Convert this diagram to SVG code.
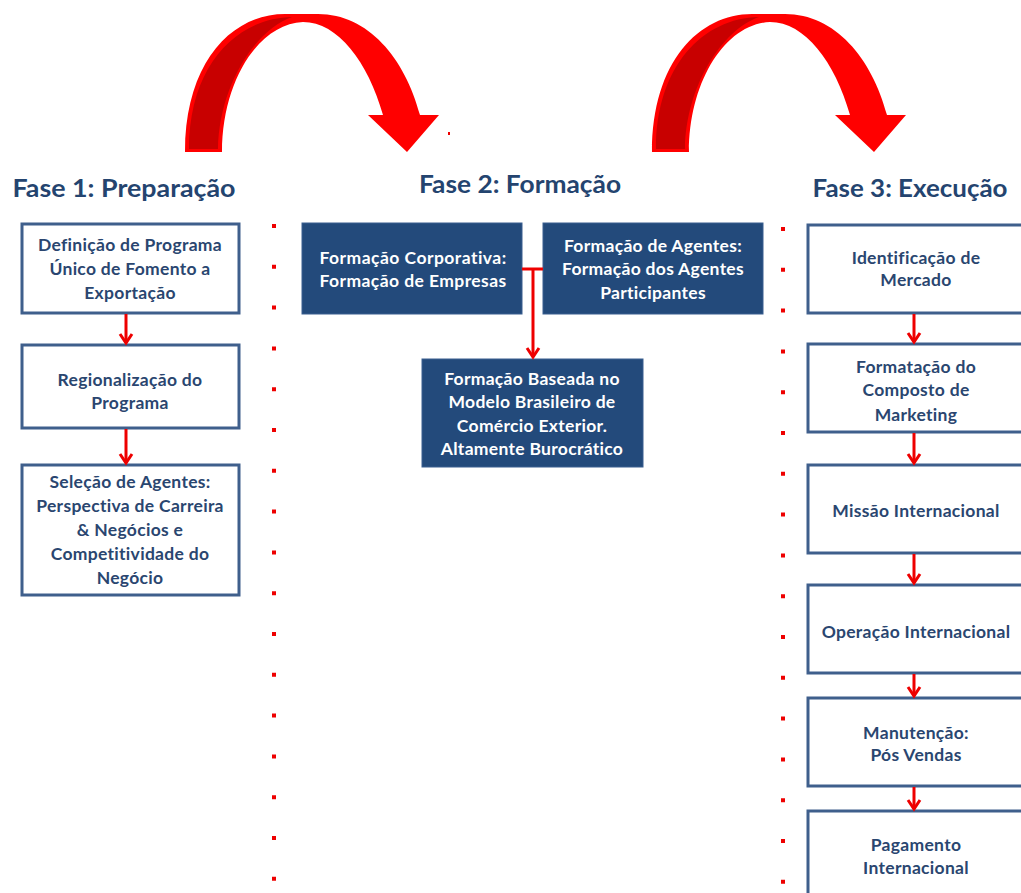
<svg xmlns="http://www.w3.org/2000/svg" width="1021" height="893" viewBox="0 0 1021 893">
<defs>
<style>
.title{font-family:Lato,"Liberation Sans",sans-serif;font-weight:bold;font-size:25px;fill:#24446f;text-anchor:middle}
.box{fill:#ffffff;stroke:#3f5f8c;stroke-width:3}
.dbox{fill:#234a7b;stroke:#3a5f90;stroke-width:1}
.t{font-family:Lato,"Liberation Sans",sans-serif;font-weight:bold;font-size:17.5px;letter-spacing:0.3px;fill:#2a4670;text-anchor:middle}
.w{font-family:Lato,"Liberation Sans",sans-serif;font-weight:bold;font-size:17.5px;letter-spacing:0.3px;fill:#ffffff;text-anchor:middle}
.conn{stroke:#ee0000;stroke-width:3;fill:none}
.dots{stroke:#ee0000;stroke-width:4;stroke-dasharray:4 36.8;fill:none}
</style>
<marker id="ah" viewBox="0 0 12 14" refX="10" refY="7" markerWidth="12" markerHeight="14" markerUnits="userSpaceOnUse" orient="auto" overflow="visible">
<path d="M1,1 L10,7 L1,13" fill="none" stroke="#ee0000" stroke-width="3"/>
</marker>
<g id="bigarrow">
<path d="M185,152 C185,62 232,14 285,14 L318,14 C368,14 405,58 420,115 L439,115 L407,152 L368,115 L383,115 C368,62 338,22 303,22 C258,24 222,82 222,152 Z" fill="#ff0000"/>
<path d="M189,149 C189,66 236,18 292,17 C255,30 219,86 218,149 Z" fill="#c80000"/>
</g>
</defs>
<rect width="1021" height="893" fill="#ffffff"/>

<g id="curved-arrows">
<use href="#bigarrow"/>
<use href="#bigarrow" transform="translate(467,0)"/>
<rect x="448" y="132" width="2" height="3" fill="#ee0000"/>
</g>

<g id="titles">
<text class="title" x="124" y="197" textLength="223" lengthAdjust="spacingAndGlyphs">Fase 1: Preparação</text>
<text class="title" x="520" y="193" textLength="202" lengthAdjust="spacingAndGlyphs">Fase 2: Formação</text>
<text class="title" x="910" y="197" textLength="195" lengthAdjust="spacingAndGlyphs">Fase 3: Execução</text>
</g>

<g id="separators">
<line class="dots" x1="274" y1="224" x2="274" y2="893"/>
<line class="dots" x1="783" y1="227" x2="783" y2="893"/>
</g>

<g id="p1-definicao">
<rect class="box" x="22" y="224" width="217" height="89"/>
<text class="t" x="130" y="251">Definição de Programa</text>
<text class="t" x="130" y="275">Único de Fomento a</text>
<text class="t" x="130" y="299">Exportação</text>
</g>
<g id="p1-regionalizacao">
<rect class="box" x="22" y="345" width="217" height="83"/>
<text class="t" x="130" y="386">Regionalização do</text>
<text class="t" x="130" y="409">Programa</text>
</g>
<g id="p1-selecao">
<rect class="box" x="22" y="465" width="217" height="130"/>
<text class="t" x="130" y="488">Seleção de Agentes:</text>
<text class="t" x="130" y="512">Perspectiva de Carreira</text>
<text class="t" x="130" y="536">&amp; Negócios e</text>
<text class="t" x="130" y="560">Competitividade do</text>
<text class="t" x="130" y="584">Negócio</text>
</g>

<g id="p2-corporativa">
<rect class="dbox" x="302" y="223" width="220" height="91"/>
<text class="w" x="413" y="264" textLength="187" lengthAdjust="spacing">Formação Corporativa:</text>
<text class="w" x="413" y="287" textLength="187" lengthAdjust="spacing">Formação de Empresas</text>
</g>
<g id="p2-agentes">
<rect class="dbox" x="543" y="223" width="220" height="91"/>
<text class="w" x="653" y="252">Formação de Agentes:</text>
<text class="w" x="653" y="275">Formação dos Agentes</text>
<text class="w" x="653" y="299">Participantes</text>
</g>
<g id="p2-baseada">
<rect class="dbox" x="422" y="359" width="221" height="108"/>
<text class="w" x="532" y="385">Formação Baseada no</text>
<text class="w" x="532" y="408">Modelo Brasileiro de</text>
<text class="w" x="532" y="432">Comércio Exterior.</text>
<text class="w" x="532" y="455">Altamente Burocrático</text>
</g>

<g id="p3-identificacao">
<rect class="box" x="808" y="225" width="217" height="88"/>
<text class="t" x="916" y="264">Identificação de</text>
<text class="t" x="916" y="286">Mercado</text>
</g>
<g id="p3-formatacao">
<rect class="box" x="808" y="344" width="217" height="88"/>
<text class="t" x="916" y="373">Formatação do</text>
<text class="t" x="916" y="396">Composto de</text>
<text class="t" x="916" y="421">Marketing</text>
</g>
<g id="p3-missao">
<rect class="box" x="808" y="465" width="217" height="88"/>
<text class="t" x="916" y="517">Missão Internacional</text>
</g>
<g id="p3-operacao">
<rect class="box" x="808" y="585" width="217" height="88"/>
<text class="t" x="916" y="638">Operação Internacional</text>
</g>
<g id="p3-manutencao">
<rect class="box" x="808" y="698" width="217" height="88"/>
<text class="t" x="916" y="739">Manutenção:</text>
<text class="t" x="916" y="761">Pós Vendas</text>
</g>
<g id="p3-pagamento">
<rect class="box" x="808" y="811" width="217" height="95"/>
<text class="t" x="916" y="851">Pagamento</text>
<text class="t" x="916" y="874">Internacional</text>
</g>

<g id="connectors">
<line class="conn" x1="126" y1="314" x2="126" y2="343" marker-end="url(#ah)"/>
<line class="conn" x1="126" y1="429" x2="126" y2="463" marker-end="url(#ah)"/>
<line class="conn" x1="522" y1="269" x2="543" y2="269"/>
<line class="conn" x1="533" y1="269" x2="533" y2="357" marker-end="url(#ah)"/>
<line class="conn" x1="914" y1="314" x2="914" y2="342" marker-end="url(#ah)"/>
<line class="conn" x1="914" y1="433" x2="914" y2="463" marker-end="url(#ah)"/>
<line class="conn" x1="914" y1="554" x2="914" y2="583" marker-end="url(#ah)"/>
<line class="conn" x1="914" y1="674" x2="914" y2="696" marker-end="url(#ah)"/>
<line class="conn" x1="914" y1="787" x2="914" y2="809" marker-end="url(#ah)"/>
</g>
</svg>
